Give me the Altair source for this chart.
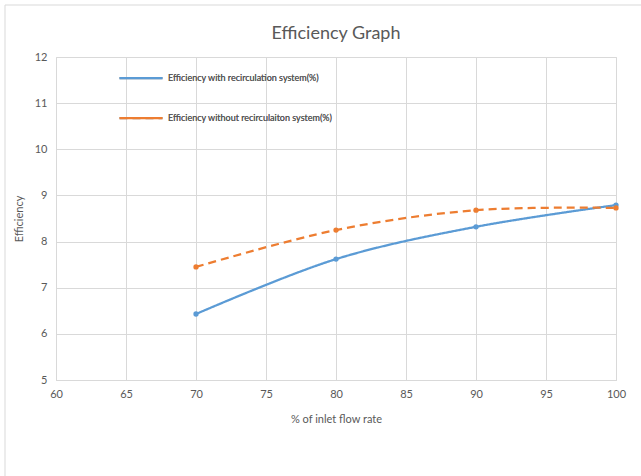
import altair as alt
import pandas as pd

flow = [70, 80, 90, 100]
eff_with = [6.43, 7.62, 8.32, 8.79]
eff_without = [7.45, 8.25, 8.68, 8.73]
series_names = ["Efficiency with recirculation system(%)",
                "Efficiency without recirculaiton system(%)"]
colors = ["#5B9BD5", "#ED7D31"]

rows = []
for x, a, b in zip(flow, eff_with, eff_without):
    rows.append({"flow": x, "eff": a, "series": series_names[0]})
    rows.append({"flow": x, "eff": b, "series": series_names[1]})
df = pd.DataFrame(rows)

FONT = "Lato"
GREY = "#595959"

xenc = alt.X("flow:Q", scale=alt.Scale(domain=[60, 100], nice=False),
             axis=alt.Axis(title="% of inlet flow rate", values=list(range(60, 101, 5)),
                           grid=True, gridColor="#d9d9d9", ticks=False,
                           domain=True, domainColor="#d9d9d9", labelFlush=False,
                           labelPadding=8, titlePadding=14,
                           labelFontSize=11, titleFontSize=11,
                           labelColor=GREY, titleColor=GREY,
                           titleFontWeight="normal", labelFont=FONT, titleFont=FONT))
yenc = alt.Y("eff:Q", scale=alt.Scale(domain=[5, 12], nice=False),
             axis=alt.Axis(title="Efficiency", values=list(range(5, 13)),
                           grid=True, gridColor="#d9d9d9", ticks=False,
                           domain=False, labelPadding=9, titlePadding=10,
                           labelFontSize=11, titleFontSize=11,
                           labelColor=GREY, titleColor=GREY,
                           titleFontWeight="normal", labelFont=FONT, titleFont=FONT))

color_scale = alt.Scale(domain=series_names, range=colors)

leg = alt.Legend(title=None, orient="none", legendX=62, legendY=-2,
                 symbolType="stroke", symbolSize=1849,
                 symbolStrokeWidth=2.25, labelFontSize=9,
                 labelColor=GREY, labelFont=FONT, labelOffset=4,
                 rowPadding=12, labelLimit=400)

lines = alt.Chart(df).mark_line(interpolate="catmull-rom", strokeWidth=2.25).encode(
    x=xenc, y=yenc,
    color=alt.Color("series:N", scale=color_scale, legend=leg),
    strokeDash=alt.StrokeDash("series:N",
                              scale=alt.Scale(domain=series_names, range=[[1, 0], [8, 5]]),
                              legend=leg),
)

points = alt.Chart(df).mark_point(filled=True, size=28, opacity=1).encode(
    x="flow:Q", y="eff:Q",
    fill=alt.Fill("series:N", scale=alt.Scale(domain=series_names, range=colors), legend=None),
)

border = pd.DataFrame({"k": [0]})
top_border = alt.Chart(border).mark_rule(color="#d9d9d9", strokeWidth=1).encode(
    x=alt.value(-51), x2=alt.value(600), y=alt.value(-52))
left_border = alt.Chart(border).mark_rule(color="#d9d9d9", strokeWidth=1).encode(
    x=alt.value(-51), y=alt.value(-52), y2=alt.value(430))

chart = alt.layer(top_border, left_border, lines, points).resolve_scale(
    color="independent", fill="independent"
).properties(
    width=560, height=323,
    title=alt.TitleParams("Efficiency Graph", fontSize=18, font=FONT, color=GREY,
                          fontWeight="normal", offset=-38, anchor="middle"),
    autosize=alt.AutoSizeParams(type="none"),
    padding={"left": 56, "top": 57, "right": 25, "bottom": 96},
).configure_view(stroke=None).configure(background="white")

chart.save("out.html", embed_options={"renderer": "svg", "actions": False})
